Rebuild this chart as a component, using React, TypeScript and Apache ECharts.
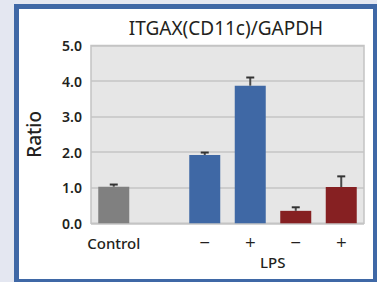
import React, { useEffect, useRef } from "react";
import * as echarts from "echarts";

const categories = ["Control", "", "−", "+", "−", "+"];
const values = [1.03, null, 1.92, 3.87, 0.35, 1.02];
const errors = [0.06, null, 0.07, 0.23, 0.1, 0.3];
const barColors = ["#808080", "#808080", "#3f68a5", "#3f68a5", "#862022", "#862022"];
const yTicks = [0, 1, 2, 3, 4, 5];
const titleText = "ITGAX(CD11c)/GAPDH";
const yName = "Ratio";
const groupLabel = "LPS";

export default function App() {
  const ref = useRef<HTMLDivElement>(null);
  useEffect(() => {
    if (!ref.current) return;
    const chart = echarts.init(ref.current, null, { renderer: "svg" });
    const font = "'Noto Sans', sans-serif";
    const errData = values
      .map((v, i) => (v == null ? null : [i, v, v + (errors[i] as number)]))
      .filter((d) => d != null);
    chart.setOption({
      animation: false,
      grid: { left: 91, right: 13, top: 45.5, bottom: 58.7, backgroundColor: "#e6e6e6", show: true, borderColor: "#c4c4c4", borderWidth: 1.5 },
      graphic: [
        {
          type: "text",
          x: 226,
          y: 28,
          style: { text: titleText, textAlign: "center", textVerticalAlign: "middle", font: `19px ${font}`, fill: "#231f20" },
        },
        {
          type: "text",
          x: 272.75,
          y: 262,
          style: { text: groupLabel, textAlign: "center", textVerticalAlign: "middle", font: `500 15px ${font}`, fill: "#231f20" },
        },
      ],
      xAxis: {
        type: "category",
        data: categories,
        axisLine: { show: false },
        axisTick: { show: false },
        axisLabel: {
          interval: 0,
          fontFamily: font,
          fontSize: 15,
          fontWeight: 500,
          color: "#231f20",
          margin: 12,
          formatter: (v: string) => (v === "−" || v === "+" ? `{s|${v}}` : v),
          rich: { s: { fontFamily: "'DejaVu Sans', sans-serif", fontSize: 14, fontWeight: "normal", color: "#231f20" } },
        },
      },
      yAxis: {
        type: "value",
        min: 0,
        max: 5,
        interval: 1,
        name: yName,
        nameLocation: "middle",
        nameRotate: 90,
        nameGap: 48,
        nameTextStyle: { fontFamily: font, fontSize: 19, fontWeight: 500, color: "#231f20" },
        axisLine: { show: false },
        axisTick: { show: false },
        splitLine: { lineStyle: { color: "#c4c4c4", width: 1.5 } },
        axisLabel: {
          fontFamily: font,
          fontSize: 14,
          fontWeight: 600,
          color: "#231f20",
          margin: 9,
          formatter: (v: number) => (yTicks.includes(v) ? v.toFixed(1) : ""),
        },
      },
      series: [
        {
          type: "bar",
          data: values.map((v, i) => (v == null ? "-" : { value: v, itemStyle: { color: barColors[i] } })),
          barWidth: 31,
          z: 2,
        },
        {
          type: "custom",
          data: errData,
          z: 3,
          renderItem: (params: any, api: any) => {
            const base = api.coord([api.value(0), api.value(1)]);
            const top = api.coord([api.value(0), api.value(2)]);
            return {
              type: "group",
              children: [
                { type: "line", shape: { x1: base[0], y1: base[1], x2: base[0], y2: top[1] }, style: { stroke: "#4a4a4a", lineWidth: 2 } },
                { type: "line", shape: { x1: base[0] - 4, y1: top[1], x2: base[0] + 4, y2: top[1] }, style: { stroke: "#333333", lineWidth: 2 } },
              ],
            };
          },
        },
      ],
    });
    return () => chart.dispose();
  }, []);
  return (
    <div style={{ position: "fixed", left: 0, top: 0, width: 377, height: 282, background: "#e4e7f1", overflow: "hidden" }}>
      <div
        style={{
          position: "absolute",
          left: 14,
          top: 4,
          width: 354,
          height: 270,
          border: "5px solid #3f68a6",
          boxSizing: "content-box",
          background: "#ffffff",
        }}
      />
      <div ref={ref} style={{ position: "absolute", left: 0, top: 0, width: 377, height: 282 }} />
    </div>
  );
}
